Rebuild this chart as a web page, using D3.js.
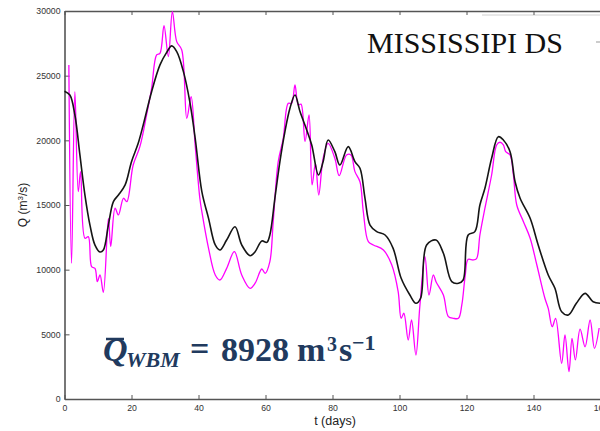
<!DOCTYPE html>
<html>
<head>
<meta charset="utf-8">
<script src="https://cdn.jsdelivr.net/npm/d3@7"></script>
<style>
  html, body { margin: 0; padding: 0; background: #fff; overflow: hidden; }
  svg { display: block; }
</style>
</head>
<body>
<svg id="chart" width="600" height="431"></svg>
<script>
// ---- Data ----
const simDays = [0, 1.6, 3.1, 4.6, 6.1, 7.6, 9.1, 10.6, 11.6, 13.1, 14.6, 16.1, 18.1, 20, 22, 23.5, 26, 28.5, 30.5, 32, 33.5, 35.5, 37.4, 39, 41, 43, 45, 46.4, 48.4, 50.9, 52.9, 55.4, 56.9, 58.9, 60.4, 61.3, 62.8, 64.3, 65.8, 67.3, 68.8, 70.3, 72.3, 73.8, 75.8, 77.2, 78.7, 80.7, 82.2, 84.7, 86.7, 88.2, 89.7, 91.2, 93.2, 95.7, 98.1, 100.5, 103.1, 104.9, 106.3, 108.1, 110.9, 113.1, 115.6, 117.6, 119, 120.5, 122.5, 124, 125.5, 127.5, 129.5, 131, 133, 134.5, 136, 139, 141.4, 144.4, 146.4, 148.4, 150.4, 152.8, 155.4, 157.8, 160];
const simQ = [23800, 23500, 21960, 18870, 15770, 13450, 11900, 11370, 11520, 13450, 15260, 15770, 16550, 18350, 19770, 21190, 23760, 25830, 26800, 27300, 26860, 25310, 22990, 20180, 16030, 13970, 11910, 11520, 12290, 13320, 11910, 11080, 11390, 12220, 12110, 12680, 15520, 18350, 20670, 22480, 23510, 22220, 20800, 19640, 17320, 18350, 20030, 19120, 18090, 19510, 18350, 17840, 15520, 13450, 12940, 12680, 11650, 9330, 8040, 7400, 7790, 11910, 12290, 11270, 9070, 8950, 9200, 12680, 12940, 15000, 16290, 18610, 20280, 20030, 19120, 16800, 15520, 13970, 11910, 9590, 8560, 6750, 6500, 7400, 8170, 7520, 7400];

const obsDays = [1.3, 2.1, 3.1, 4.1, 4.8, 6.1, 7.1, 8.1, 9.1, 9.8, 10.6, 11.6, 13.1, 13.8, 15.1, 16.1, 17.6, 18.6, 20.5, 22.5, 24.5, 26, 27.5, 28.5, 29.7, 31, 32.2, 33.5, 35, 36.5, 37.8, 39, 40.4, 41, 43, 45, 46.4, 48.4, 50.7, 52.9, 55.4, 56.9, 58.9, 59.9, 61.3, 62.3, 63.8, 65.3, 66.8, 67.8, 68.8, 69.8, 70.6, 71.8, 73, 73.9, 74.9, 75.9, 77.2, 78.7, 80.7, 82, 84.2, 85.5, 86.7, 88.2, 89.2, 90.7, 92.2, 95.2, 97.7, 99.6, 100.5, 101.3, 102.6, 103.6, 104.9, 106.1, 107.6, 108.8, 110.1, 110.9, 113.1, 114.6, 116.1, 117.6, 118.6, 119.6, 120.5, 122, 123, 124, 125.5, 127.5, 129, 130, 131, 131.7, 133, 134, 135, 137, 139, 141, 143.4, 144.4, 145.6, 146.6, 148.4, 149.4, 150.6, 151.5, 152.5, 153.9, 155.4, 156.9, 158.2, 159.6];
const obsQ = [25830, 10490, 23760, 16030, 17580, 12430, 12550, 10230, 10100, 9070, 9590, 8250, 13970, 11780, 14750, 14230, 15520, 15260, 18090, 19510, 21960, 24020, 26600, 26730, 28860, 26470, 29950, 27630, 26990, 21700, 23370, 19640, 15520, 14480, 11650, 9590, 9200, 10100, 11390, 9590, 8560, 8950, 10050, 9720, 10620, 13710, 18350, 20160, 22860, 22860, 24280, 22730, 22800, 19900, 21960, 16550, 18220, 15770, 18610, 19770, 18610, 17270, 18870, 18870, 17580, 16800, 14480, 12160, 11910, 11520, 10360, 8300, 6240, 6630, 4560, 6110, 3400, 7270, 11000, 8040, 9590, 9070, 8040, 6370, 6240, 6240, 7270, 9500, 10800, 10750, 10850, 12680, 14750, 17320, 19640, 19850, 19640, 19120, 18870, 17320, 15000, 13710, 12430, 10360, 7790, 7010, 5590, 6240, 2760, 4950, 2110, 4690, 3020, 5400, 4040, 6110, 3920, 5490];

const xTicks = [0, 20, 40, 60, 80, 100, 120, 140, 160];
const yTicks = [0, 5000, 10000, 15000, 20000, 25000, 30000];

// ---- Layout ----
const svg = d3.select("#chart");
const x = d3.scaleLinear().domain([0, 160]).range([64.5, 600.5]);
const y = d3.scaleLinear().domain([0, 30000]).range([399, 11]);
const axisColor = "#555";
const tickFont = "8.7px 'Liberation Sans', Arial, sans-serif";

// faint artifact line at top right
svg.append("line")
  .attr("x1", 482).attr("x2", 600).attr("y1", 15).attr("y2", 15)
  .attr("stroke", "#d0d0d0").attr("stroke-width", 1);

function styleAxis(g) {
  g.selectAll(".domain").attr("stroke", axisColor).attr("stroke-width", 1.6);
  g.selectAll(".tick line").attr("stroke", axisColor).attr("stroke-width", 1);
  g.selectAll(".tick text").attr("fill", "#333").style("font", tickFont);
}

// Left axis
svg.append("g")
  .attr("transform", `translate(${x(0)},0)`)
  .call(d3.axisLeft(y).tickValues(yTicks).tickFormat(d3.format("d"))
        .tickSizeInner(-5).tickSizeOuter(0).tickPadding(4))
  .call(styleAxis);

// Bottom axis
svg.append("g")
  .attr("transform", `translate(0,${y(0)})`)
  .call(d3.axisBottom(x).tickValues(xTicks).tickFormat(d3.format("d"))
        .tickSizeInner(-4).tickSizeOuter(0).tickPadding(6))
  .call(styleAxis);

// Top border with ticks
svg.append("g")
  .attr("transform", `translate(0,${y(30000)})`)
  .call(d3.axisTop(x).tickValues(xTicks).tickFormat("")
        .tickSizeInner(-4).tickSizeOuter(0))
  .call(styleAxis);

// small right-side tick mark
svg.append("line")
  .attr("x1", 596).attr("x2", 600).attr("y1", 42).attr("y2", 42)
  .attr("stroke", "#999").attr("stroke-width", 1);

// ---- Lines ----
const obs = obsDays.map((d, i) => [d, obsQ[i]]);
const sim = simDays.map((d, i) => [d, simQ[i]]);
const line = d3.line()
  .x(d => x(d[0])).y(d => y(d[1]))
  .curve(d3.curveCatmullRom.alpha(0.5));

svg.append("path").datum(obs)
  .attr("d", line).attr("fill", "none")
  .attr("stroke", "#ff00ff").attr("stroke-width", 1.3);

svg.append("path").datum(sim)
  .attr("d", line).attr("fill", "none")
  .attr("stroke", "#151515").attr("stroke-width", 1.6);

// ---- Axis titles ----
const yl = svg.append("text")
  .attr("transform", "translate(26.5,205) rotate(-90)")
  .attr("text-anchor", "middle")
  .attr("fill", "#222")
  .style("font", "12px 'Liberation Sans', Arial, sans-serif");
yl.append("tspan").text("Q (m");
yl.append("tspan").attr("dy", -4).style("font-size", "8px").text("3");
yl.append("tspan").attr("dy", 4).text("/s)");

svg.append("text")
  .attr("x", 335).attr("y", 425)
  .attr("text-anchor", "middle").attr("fill", "#222")
  .style("font", "12.5px 'Liberation Sans', Arial, sans-serif")
  .text("t (days)");

// ---- Title ----
svg.append("text")
  .attr("x", 367).attr("y", 53)
  .attr("fill", "#111")
  .style("font", "30px 'Liberation Serif', 'Times New Roman', serif")
  .text("MISSISSIPI DS");

// ---- Formula ----
const fc = "#213a5e";
const ff = "'Liberation Serif', 'Times New Roman', serif";
function ft(tx, ty, size, txt, italic) {
  return svg.append("text").attr("x", tx).attr("y", ty).attr("fill", fc)
    .style("font-family", ff).style("font-weight", "bold")
    .style("font-style", italic ? "italic" : "normal")
    .style("font-size", size + "px").text(txt);
}
ft(103, 361, 34, "Q", true);
svg.append("line").attr("x1", 106).attr("x2", 124).attr("y1", 339).attr("y2", 339)
  .attr("stroke", fc).attr("stroke-width", 2.5);
ft(126, 367, 22, "WBM", true);
ft(190, 360, 34, "=", false);
ft(221, 361, 34, "8928", false);
ft(297, 361, 34, "m", false);
ft(327, 351, 20, "3", false);
ft(339, 361, 34, "s", false);
ft(352, 350, 22, "\u22121", false);
</script>
</body>
</html>
